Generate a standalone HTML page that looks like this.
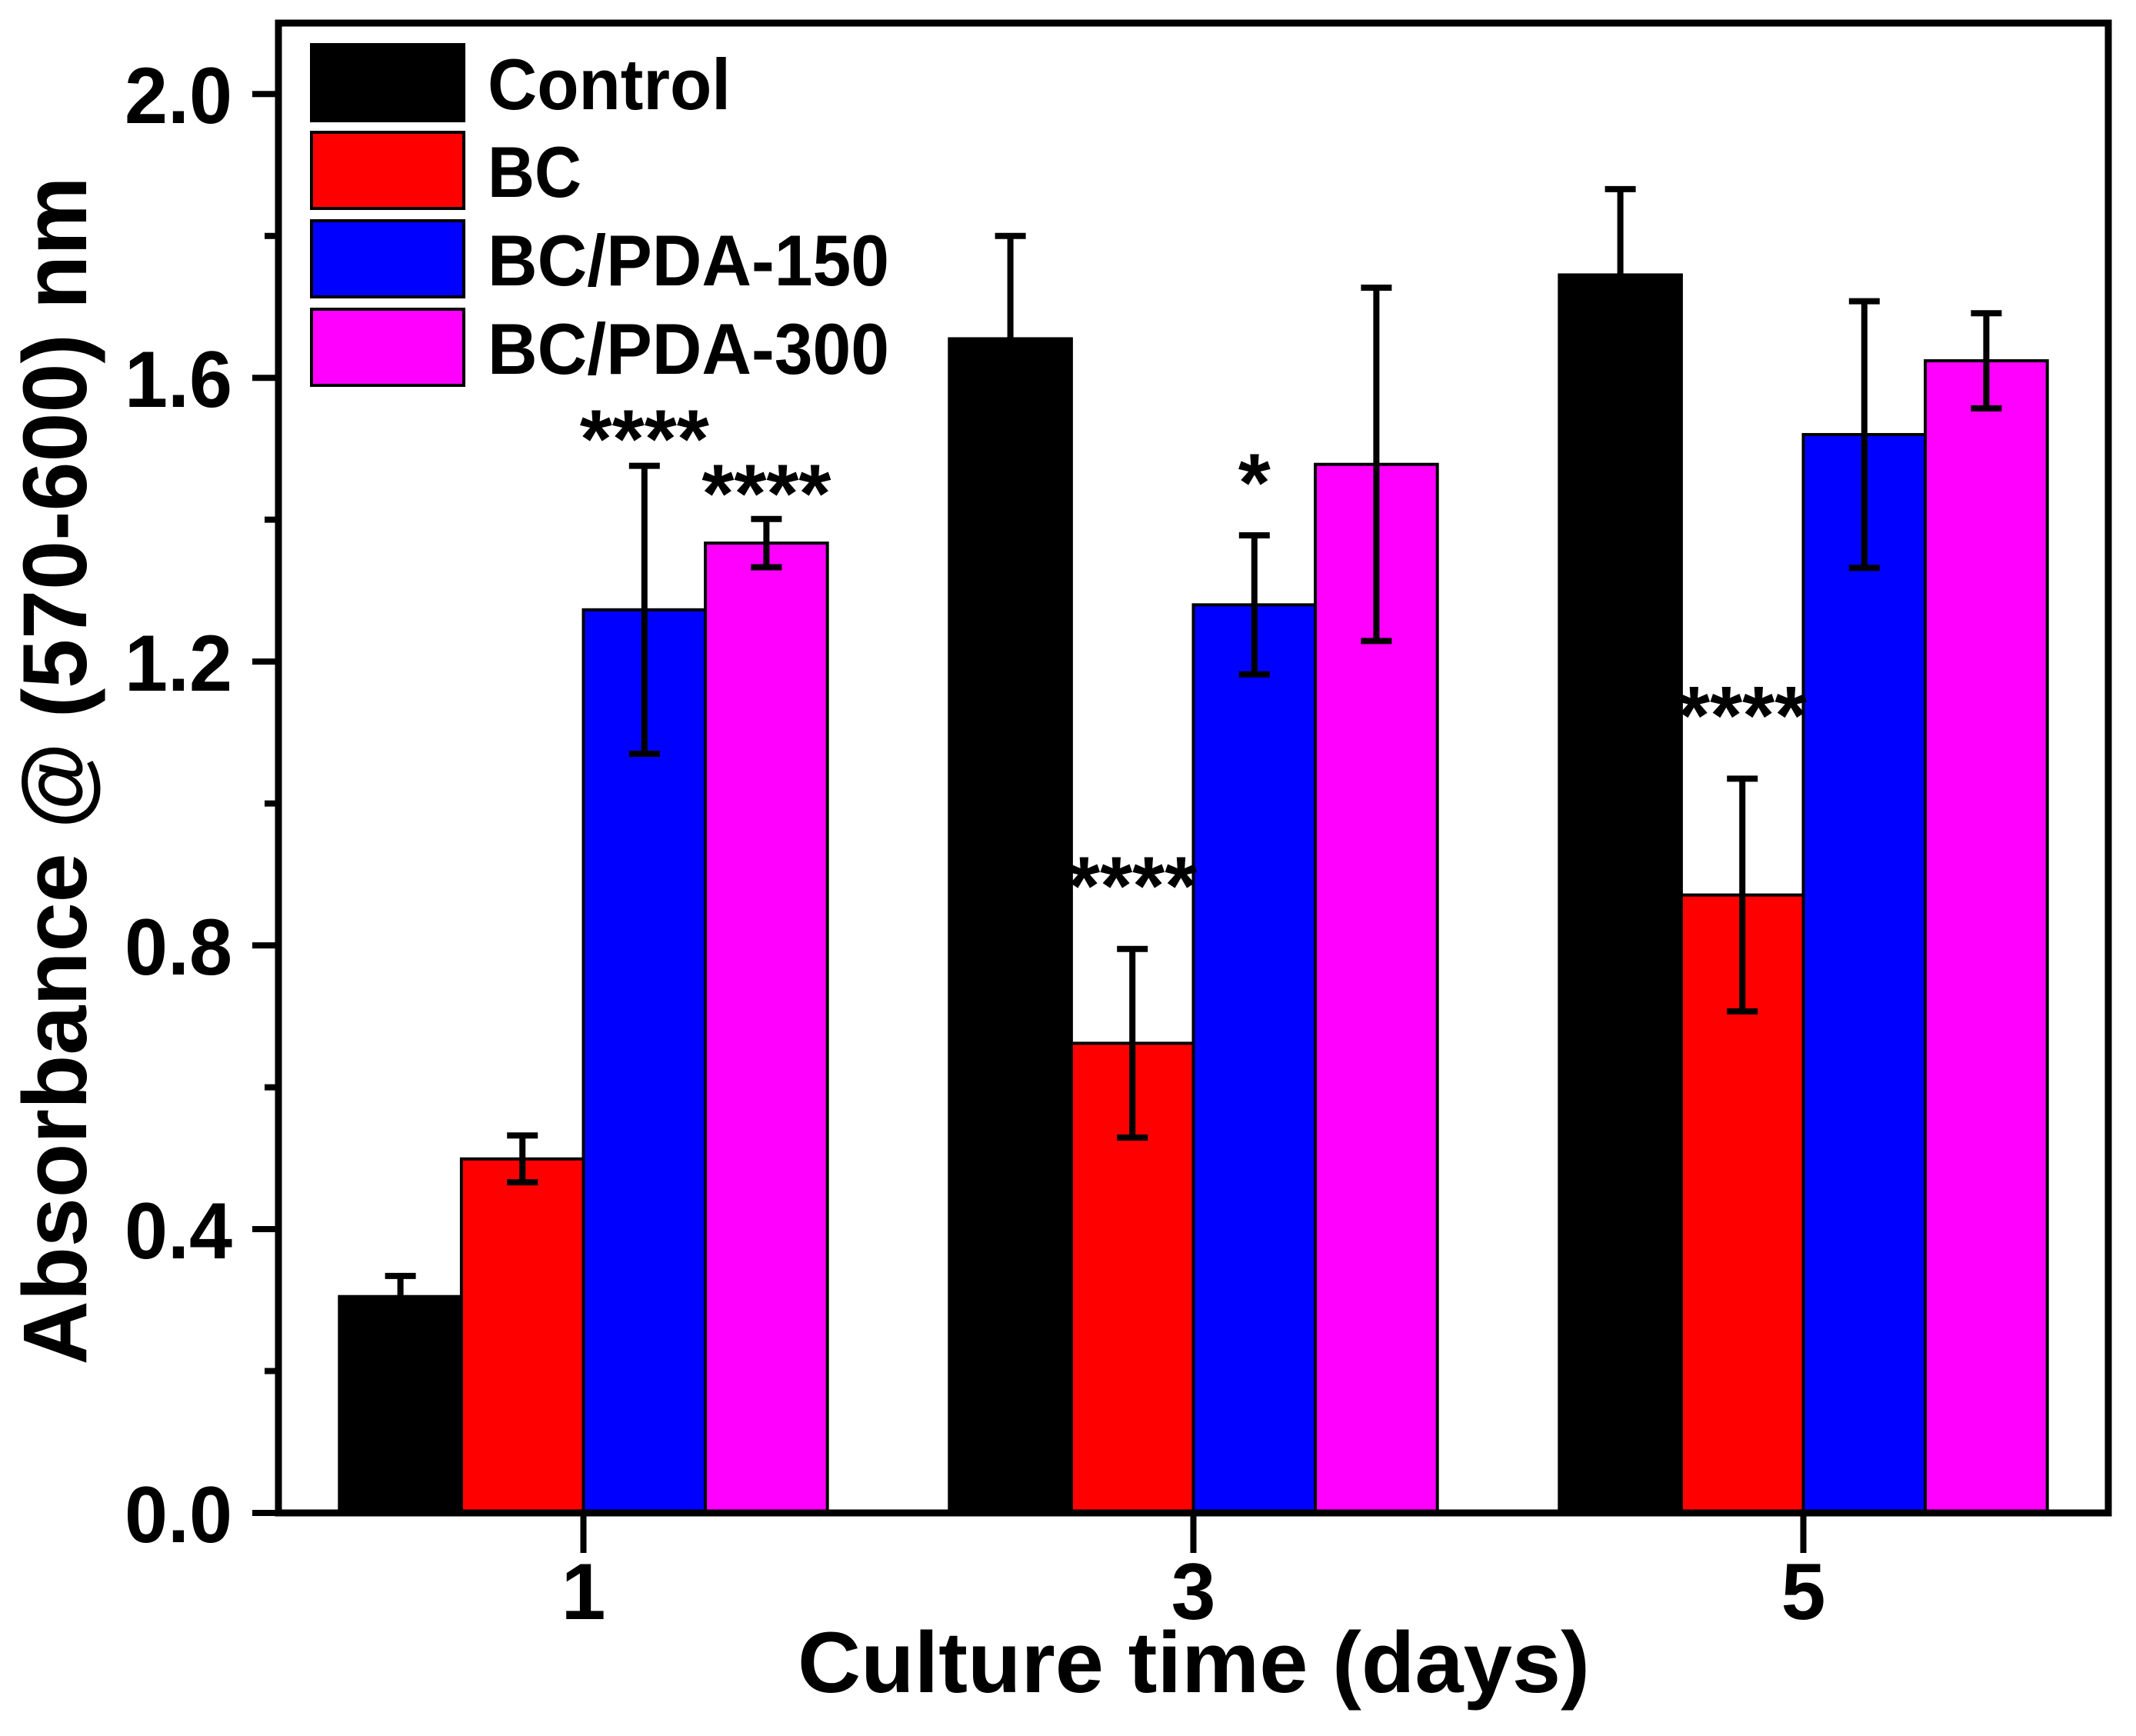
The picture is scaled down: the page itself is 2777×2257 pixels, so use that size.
<!DOCTYPE html>
<html><head><meta charset="utf-8"><style>
html,body{margin:0;padding:0;background:#fff;}
svg{display:block;font-family:"Liberation Sans",Arial,sans-serif;font-weight:bold;}
</style></head><body>
<svg id="chart" width="2777" height="2257" viewBox="0 0 2777 2257" xmlns="http://www.w3.org/2000/svg"></svg>
<script>
const categories = [1, 3, 5];
const seriesNames = ["Control", "BC", "BC/PDA-150", "BC/PDA-300"];
const seriesColors = ["#000000", "#ff0000", "#0000ff", "#ff00ff"];
const controlValues = [0.305, 1.655, 1.745];
const bcValues = [0.499, 0.662, 0.871];
const pda150Values = [1.273, 1.280, 1.520];
const pda300Values = [1.367, 1.478, 1.624];
const controlErr = [0.029, 0.145, 0.121];
const bcErr = [0.033, 0.133, 0.164];
const pda150Err = [0.203, 0.098, 0.188];
const pda300Err = [0.034, 0.249, 0.067];
const yTicks = [0.0, 0.4, 0.8, 1.2, 1.6, 2.0];
const yTickLabels = ["0.0", "0.4", "0.8", "1.2", "1.6", "2.0"];
const annCategory = [1, 1, 3, 3, 5];
const annSeries = [2, 3, 1, 2, 1];
const annText = ["****", "****", "****", "*", "****"];
const annValue = [1.526, 1.449, 0.896, 1.464, 1.136];

const values = [controlValues, bcValues, pda150Values, pda300Values];
const errs = [controlErr, bcErr, pda150Err, pda300Err];
const NS = "http://www.w3.org/2000/svg";
const svg = document.getElementById("chart");
const L = 362, R = 2741, T = 30, B = 1967;
const xMin = 0, xMax = 6, yMin = 0, yMax = 2.1;
const xS = v => L + (v - xMin) / (xMax - xMin) * (R - L);
const yS = v => B - (v - yMin) / (yMax - yMin) * (B - T);
const barW = 0.4;
function mk(tag, attrs, parent) {
  const e = document.createElementNS(NS, tag);
  for (const k in attrs) e.setAttribute(k, attrs[k]);
  (parent || svg).appendChild(e);
  return e;
}
const barsG = mk("g", {});


for (let s = 0; s < values.length; s++) {
  for (let c = 0; c < categories.length; c++) {
    const x0 = xS(categories[c] + (s - 2) * barW);
    const x1 = xS(categories[c] + (s - 1) * barW);
    const r = mk("rect", {x: x0, y: yS(values[s][c]), width: x1 - x0, height: yS(0) - yS(values[s][c]), fill: seriesColors[s], stroke: "#000", "stroke-width": 4}, barsG);
    
    
  }
}
for (let s = 0; s < values.length; s++) {
  for (let c = 0; c < categories.length; c++) {
    const xc = xS(categories[c] + (s - 1.5) * barW);
    const hi = yS(values[s][c] + errs[s][c]), lo = yS(values[s][c] - errs[s][c]);
    const g = mk("g", {stroke: "#000", "stroke-width": 8});
    
    
    mk("line", {x1: xc, x2: xc, y1: hi, y2: lo}, g);
    mk("line", {x1: xc - 20, x2: xc + 20, y1: hi, y2: hi}, g);
    mk("line", {x1: xc - 20, x2: xc + 20, y1: lo, y2: lo}, g);
  }
}
for (let i = 0; i < annText.length; i++) {
  const xc = xS(annCategory[i] + (annSeries[i] - 1.5) * barW);
  const t = mk("text", {x: xc, y: yS(annValue[i]) + 48, "text-anchor": "middle", "font-size": 108, fill: "#000"});
  t.textContent = annText[i];
  
  
}
const fr = mk("rect", {x: L, y: T, width: R - L, height: B - T, fill: "none", stroke: "#000", "stroke-width": 9});


for (let i = 0; i < yTicks.length; i++) {
  const y = yS(yTicks[i]);
  const tk = mk("line", {x1: L - 34, x2: L, y1: y, y2: y, stroke: "#000", "stroke-width": 8});
  
  
  if (i < yTicks.length - 1) {
    const ym = yS((yTicks[i] + yTicks[i + 1]) / 2);
    const mt = mk("line", {x1: L - 18, x2: L, y1: ym, y2: ym, stroke: "#000", "stroke-width": 8});
    
    
  }
  const lb = mk("text", {x: 302, y: y + 38, "text-anchor": "end", "font-size": 104, fill: "#000", textLength: 140, lengthAdjust: "spacingAndGlyphs"});
  lb.textContent = yTickLabels[i];
  
  
}
for (let c = 0; c < categories.length; c++) {
  const x = xS(categories[c]);
  const tk = mk("line", {x1: x, x2: x, y1: B, y2: B + 52, stroke: "#000", "stroke-width": 8});
  
  
  const lb = mk("text", {x: x, y: 2105, "text-anchor": "middle", "font-size": 104, fill: "#000"});
  lb.textContent = String(categories[c]);
  
  
}
const xt = mk("text", {x: 1552, y: 2200, "text-anchor": "middle", "font-size": 112, fill: "#000", textLength: 1030, lengthAdjust: "spacingAndGlyphs"});
xt.textContent = "Culture time (days)";


const yt = mk("text", {x: 0, y: 0, "text-anchor": "middle", "font-size": 118, fill: "#000", transform: "translate(112,1002) rotate(-90)", textLength: 1545, lengthAdjust: "spacingAndGlyphs"});
yt.textContent = "Absorbance @ (570-600) nm";


const legTop = [58, 172, 287, 402];
for (let s = 0; s < seriesNames.length; s++) {
  const g = mk("g", {});
  
  
  mk("rect", {x: 405, y: legTop[s], width: 198, height: 99, fill: seriesColors[s], stroke: "#000", "stroke-width": 4}, g);
  const t = mk("text", {x: 634, y: legTop[s] + 84, "font-size": 94, fill: "#000", textLength: [316, 122, 522, 522][s], lengthAdjust: "spacingAndGlyphs"}, g);
  t.textContent = seriesNames[s];
}
</script>
</body></html>
